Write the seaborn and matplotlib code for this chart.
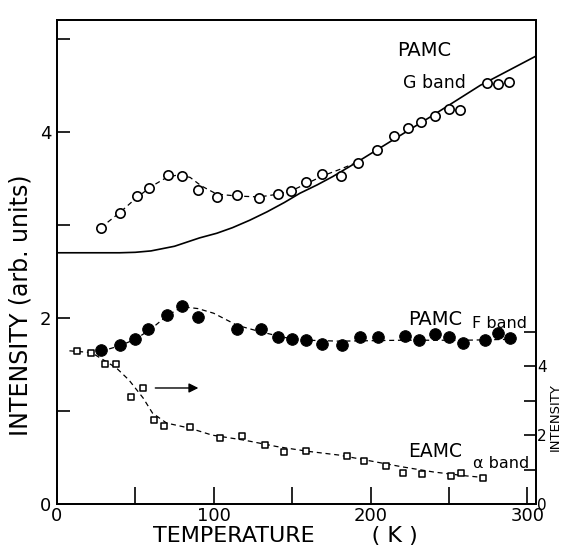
import numpy as np
import matplotlib
matplotlib.use('agg')
import matplotlib.pyplot as plt
import seaborn as sns
import pandas as pd

# PAMC G band (open circles), left axis
g_temp = [28, 40, 51, 59, 71, 80, 90, 102, 115, 129, 141, 149, 159, 169, 181,
          192, 204, 215, 224, 232, 241, 250, 257, 274, 281, 288]
g_int = [2.97, 3.13, 3.31, 3.40, 3.54, 3.53, 3.38, 3.30, 3.32, 3.29, 3.33, 3.36, 3.46, 3.55, 3.52,
         3.67, 3.81, 3.96, 4.04, 4.11, 4.17, 4.25, 4.23, 4.52, 4.51, 4.54]
g_fit_temp = [28, 40, 50, 60, 70, 78, 85, 92, 102, 115, 129, 141, 150, 160, 170, 181, 191]
g_fit_int = [2.97, 3.13, 3.28, 3.41, 3.51, 3.54, 3.51, 3.42, 3.33, 3.31, 3.30, 3.33, 3.37, 3.45, 3.53, 3.60, 3.67]

# solid curve
s_temp = [0, 20, 40, 50, 60, 75, 91, 102, 112, 123, 134, 145, 155, 166, 176, 191, 215, 240, 270, 305]
s_int = [2.70, 2.70, 2.70, 2.705, 2.72, 2.77, 2.86, 2.91, 2.97, 3.05, 3.14, 3.24, 3.34, 3.43, 3.52,
         3.67, 3.92, 4.18, 4.50, 4.81]

# PAMC F band (filled circles), left axis
f_temp = [28, 40, 50, 58, 70, 80, 90, 115, 130, 141, 150, 159, 169, 182, 193, 205,
          222, 231, 241, 250, 259, 273, 281, 289]
f_int = [1.65, 1.71, 1.77, 1.88, 2.03, 2.13, 2.01, 1.88, 1.88, 1.80, 1.77, 1.76, 1.72, 1.71, 1.80, 1.80,
         1.81, 1.76, 1.83, 1.80, 1.73, 1.76, 1.84, 1.78]
f_fit_temp = [28, 40, 50, 60, 70, 80, 90, 100, 115, 130, 145, 160, 180, 220, 260, 290]
f_fit_int = [1.64, 1.70, 1.77, 1.88, 2.02, 2.12, 2.10, 2.05, 1.92, 1.85, 1.79, 1.76, 1.75, 1.76, 1.76, 1.77]

# EAMC alpha band (open squares), right axis
a_temp = [13, 22, 31, 38, 47, 55, 62, 68, 85, 104, 118, 133, 145, 159, 185, 196,
          210, 221, 233, 251, 258, 272]
a_int = [4.45, 4.39, 4.07, 4.07, 3.11, 3.37, 2.44, 2.27, 2.24, 1.92, 1.98, 1.72, 1.51, 1.54, 1.40, 1.25,
         1.10, 0.90, 0.87, 0.81, 0.90, 0.76]
a_fit_temp = [8, 22, 31, 38, 46, 55, 61, 70, 85, 99, 120, 140, 160, 180, 200, 220, 240, 260, 272]
a_fit_int = [4.45, 4.40, 4.15, 3.95, 3.60, 3.08, 2.64, 2.35, 2.20, 2.00, 1.85, 1.67, 1.53, 1.42, 1.25,
             1.08, 0.93, 0.82, 0.77]

sns.set_style("ticks")
plt.rcParams['font.family'] = ['DejaVu Sans']
plt.rcParams['text.color'] = 'black'
plt.rcParams['axes.labelcolor'] = 'black'

fig = plt.figure(figsize=(5.63, 5.46), dpi=100)
ax = fig.add_axes([0.101, 0.077, 0.851, 0.886])
ax2 = ax.twinx()

dash = (0, (4, 3))
sns.lineplot(x=s_temp, y=s_int, ax=ax, color='black', lw=1.2)
sns.lineplot(x=g_fit_temp, y=g_fit_int, ax=ax, color='black', lw=0.9, linestyle=dash)
sns.lineplot(x=f_fit_temp, y=f_fit_int, ax=ax, color='black', lw=0.9, linestyle=dash)
sns.scatterplot(x=g_temp, y=g_int, ax=ax, marker='o', s=45, facecolor='white',
                edgecolor='black', linewidth=1.2, zorder=3)
sns.scatterplot(x=f_temp, y=f_int, ax=ax, marker='o', s=70, color='black',
                edgecolor='black', zorder=3)

sns.lineplot(x=a_fit_temp, y=a_fit_int, ax=ax2, color='black', lw=0.9, linestyle=dash)
sns.scatterplot(x=a_temp, y=a_int, ax=ax2, marker='s', s=25, facecolor='white',
                edgecolor='black', linewidth=1.1, zorder=3)
ax2.annotate('', xy=(92, 3.37), xytext=(61, 3.37),
             arrowprops=dict(arrowstyle='-|>', color='black', lw=1, mutation_scale=14))

ax.set_xlim(0, 305.5)
ax.set_ylim(0, 5.2)
ax2.set_ylim(0, 5.2 * 93 / 34.4)

ax.set_xticks([0, 100, 200, 300])
ax.set_xticks([50, 150, 250], minor=True)
ax.set_yticks([0, 2, 4])
ax.set_yticks([1, 3, 5], minor=True)
ax2.set_yticks([0, 2, 4])
ax2.set_yticks([1, 3, 5], minor=True)

ax.tick_params(axis='both', which='both', direction='in', width=1.2, labelsize=13,
               color='black', labelcolor='black')
ax.tick_params(axis='x', which='both', length=12, pad=2)
ax.tick_params(axis='y', which='both', length=9, pad=4)
ax2.tick_params(axis='y', which='both', direction='in', length=9, width=1.2,
                labelsize=11, pad=1, color='black', labelcolor='black')

for a in (ax, ax2):
    for sp in a.spines.values():
        sp.set_visible(True)
        sp.set_color('black')
        sp.set_linewidth(1.3)

ax.set_xlabel("TEMPERATURE        ( K )", fontsize=16)
ax.xaxis.set_label_coords(0.476, -0.045)
ax.set_ylabel("INTENSITY (arb. units)", fontsize=17)
ax.yaxis.set_label_coords(-0.05, 0.41)
ax2.set_ylabel("INTENSITY", fontsize=9.5)
ax2.yaxis.set_label_coords(1.027, 0.18)

ax.text(234, 4.87, "PAMC", fontsize=14, ha='center', va='center')
ax.text(241, 4.52, "G band", fontsize=12.5, ha='center', va='center')
ax.text(241, 1.98, "PAMC", fontsize=14, ha='center', va='center')
ax.text(282, 1.94, "F band", fontsize=11.5, ha='center', va='center')
ax2.text(241, 1.51, "EAMC", fontsize=13.5, ha='center', va='center')
ax2.text(283, 1.19, "\u03b1 band", fontsize=11.5, ha='center', va='center')

fig.savefig('out.png', dpi=100)
